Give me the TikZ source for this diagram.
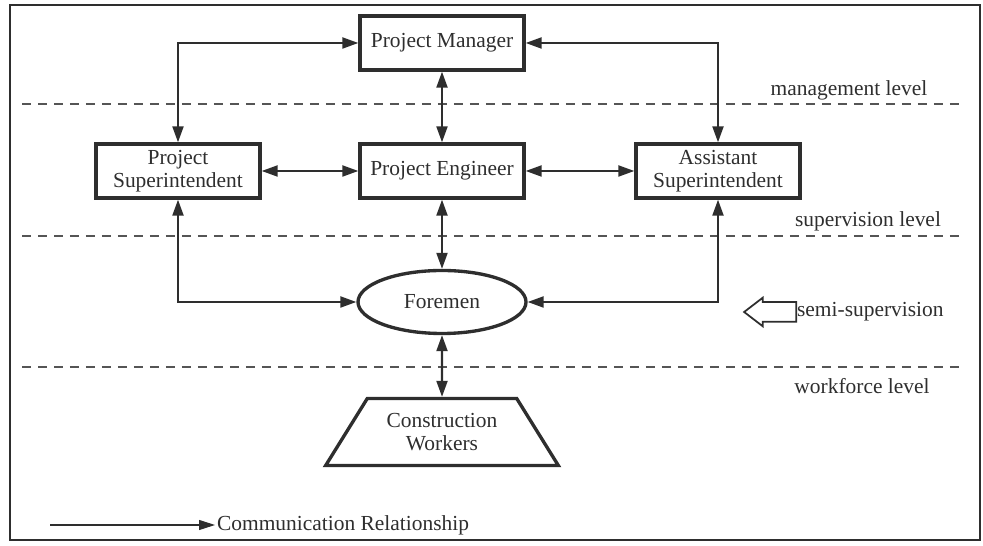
\documentclass[tikz,border=0pt]{standalone}
\usepackage{fontspec}
\setmainfont{Liberation Serif}
\definecolor{inkgray}{HTML}{2E2E2E}
\definecolor{dashgray}{HTML}{555555}
\usetikzlibrary{shapes.geometric,shapes.arrows,arrows.meta,positioning}

\begin{document}
\begin{tikzpicture}[
  role/.style={draw=inkgray, line width=1.9pt, minimum width=3.28cm,
    minimum height=1.08cm, align=center, text=inkgray,
    font=\fontsize{12.2}{12.8}\selectfont},
  arr/.style={{Triangle[length=0.32cm,width=0.22cm]}-{Triangle[length=0.32cm,width=0.22cm]},
    line width=1.2pt, inkgray},
  level/.style={dashgray, dash pattern=on 0.18cm off 0.14cm, line width=0.6pt},
  lab/.style={text=inkgray, font=\fontsize{12.2}{12.8}\selectfont, inner sep=1pt}
]
  \useasboundingbox (0,0) rectangle (19.66,10.92);
  \draw[inkgray, line width=1.2pt] (0.2,0.12) rectangle (19.6,10.82);

  % Levels
  \draw[level] (0.44,8.84) -- (19.24,8.84);
  \draw[level] (0.44,6.20) -- (19.24,6.20);
  \draw[level] (0.44,3.58) -- (19.24,3.58);
  \node[lab] (mgmt) at (16.98,9.12) {management level};
  \node[lab] (supv) at (17.36,6.50) {supervision level};
  \node[lab] (work) at (17.24,3.20) {workforce level};

  % Roles
  \node[role] (pm) at (8.84,10.06) {Project Manager};
  \node[role] (pe) at (8.84,7.50) {Project Engineer};
  \node[role] (ps) at (3.56,7.50) {Project\\Superintendent};
  \node[role] (as) at (14.36,7.50) {Assistant\\Superintendent};
  \node[role, ellipse, minimum width=3.36cm, minimum height=1.26cm] (fm) at (8.84,4.88) {Foremen};
  \node[role, trapezium, trapezium angle=55, trapezium stretches=true,
    minimum width=4.66cm, minimum height=1.34cm] (cw) at (8.84,2.28) {Construction\\Workers};

  % Arrows
  \draw[arr] (pm.west) -| (ps.north);
  \draw[arr] (pm.east) -| (as.north);
  \draw[arr] (pm) -- (pe);
  \draw[arr] (ps) -- (pe);
  \draw[arr] (pe) -- (as);
  \draw[arr] (pe) -- (fm);
  \draw[arr] (ps.south) |- (fm.west);
  \draw[arr] (as.south) |- (fm.east);
  \draw[arr] (fm) -- (cw);

  % Semi-supervision
  \node[lab, anchor=west] (semi) at (15.9,4.68) {semi-supervision};
  \node[single arrow, draw=inkgray, line width=1pt, shape border rotate=180,
    minimum height=1.04cm, inner xsep=0pt, inner ysep=0.18cm,
    single arrow head extend=0.09cm, single arrow tip angle=75,
    left=-0.04cm of semi] (semiarrow) {};

  % Legend
  \coordinate (legstart) at (1.0,0.42);
  \node[lab, anchor=west] (legtext) at (4.3,0.42) {Communication Relationship};
  \draw[-{Triangle[length=0.32cm,width=0.2cm]}, inkgray, line width=0.6pt] (legstart) -- (legtext.west);
\end{tikzpicture}
\end{document}
